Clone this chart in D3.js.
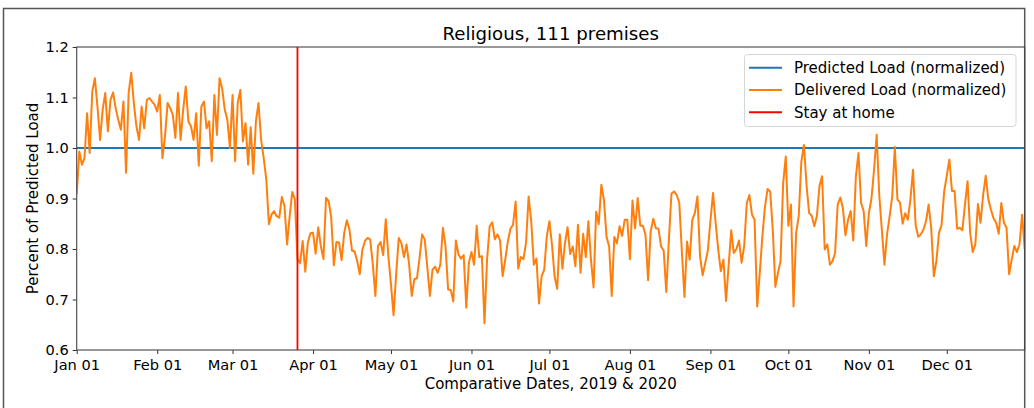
<!DOCTYPE html>
<html>
<head>
<meta charset="utf-8">
<script src="https://cdn.jsdelivr.net/npm/d3@7"></script>
<style>
  html, body { margin: 0; padding: 0; background: #fff; }
  svg { display: block; font-family: "DejaVu Sans", sans-serif; }
</style>
</head>
<body>
<svg id="chart" width="1034" height="408"></svg>
<script>
// Daily delivered load relative to predicted load, Jan 01 – Dec 31
const startDate = "2020-01-01";
const endDate = "2020-12-31";
const stayAtHomeDate = "2020-03-26";
const predictedLevel = 1.0;

const deliveredLoad = [
  // Jan 1 – Mar 4
  0.908, 0.993, 0.967, 0.980, 1.069, 0.990, 1.112, 1.138, 1.082, 1.016,
  1.076, 1.109, 1.033, 1.095, 1.110, 1.079, 1.056, 1.036, 1.092, 0.951,
  1.109, 1.149, 1.089, 1.043, 1.016, 1.082, 1.039, 1.095, 1.099, 1.092,
  1.086, 1.072, 1.105, 0.980, 1.023, 1.089, 1.079, 1.066, 1.020, 1.109,
  1.016, 1.076, 1.122, 1.053, 1.043, 1.016, 1.069, 0.965, 1.082, 1.092,
  1.039, 1.053, 0.974, 1.105, 1.026, 1.138, 1.118, 1.076, 1.056, 1.000,
  1.105, 0.974, 1.089, 1.115,
  // Mar 5 – May 3
  1.013, 1.049, 0.967, 1.041, 0.949, 1.053, 1.089, 1.016, 0.980, 0.938,
  0.849, 0.868, 0.875, 0.865, 0.862, 0.903, 0.885, 0.809, 0.865, 0.913,
  0.898, 0.780, 0.772, 0.816, 0.755, 0.813, 0.831, 0.832, 0.791, 0.843,
  0.806, 0.780, 0.901, 0.895, 0.862, 0.768, 0.814, 0.813, 0.778, 0.832,
  0.857, 0.839, 0.797, 0.795, 0.776, 0.750, 0.799, 0.816, 0.822, 0.819,
  0.770, 0.707, 0.806, 0.814, 0.788, 0.859, 0.786, 0.730, 0.669, 0.750,
  // May 4 – Jul 5
  0.822, 0.812, 0.784, 0.809, 0.769, 0.707, 0.740, 0.742, 0.782, 0.829,
  0.819, 0.763, 0.707, 0.759, 0.765, 0.753, 0.769, 0.842, 0.806, 0.720,
  0.719, 0.696, 0.817, 0.789, 0.781, 0.788, 0.684, 0.773, 0.794, 0.769,
  0.846, 0.784, 0.786, 0.653, 0.779, 0.845, 0.853, 0.819, 0.829, 0.817,
  0.746, 0.779, 0.815, 0.840, 0.848, 0.894, 0.761, 0.784, 0.780, 0.812,
  0.904, 0.855, 0.769, 0.781, 0.692, 0.746, 0.759, 0.825, 0.855, 0.808,
  0.746, 0.721, 0.829,
  // Jul 6 – Sep 1
  0.761, 0.812, 0.843, 0.790, 0.805, 0.766, 0.848, 0.753, 0.830, 0.784,
  0.855, 0.779, 0.724, 0.874, 0.849, 0.927, 0.897, 0.824, 0.805, 0.707,
  0.824, 0.811, 0.845, 0.826, 0.858, 0.858, 0.780, 0.896, 0.841, 0.901,
  0.846, 0.846, 0.828, 0.738, 0.835, 0.860, 0.841, 0.840, 0.805, 0.797,
  0.715, 0.818, 0.910, 0.914, 0.907, 0.892, 0.795, 0.705, 0.815, 0.779,
  0.857, 0.871, 0.904, 0.786, 0.748, 0.772, 0.797, 0.855,
  // Sep 2 – Oct 28
  0.911, 0.852, 0.799, 0.756, 0.779, 0.697, 0.766, 0.837, 0.792, 0.800,
  0.817, 0.773, 0.806, 0.891, 0.907, 0.868, 0.858, 0.686, 0.753, 0.825,
  0.884, 0.919, 0.914, 0.838, 0.725, 0.753, 0.776, 0.930, 0.983, 0.846,
  0.888, 0.686, 0.832, 0.865, 0.973, 1.006, 0.927, 0.871, 0.866, 0.845,
  0.866, 0.925, 0.944, 0.799, 0.809, 0.769, 0.776, 0.792, 0.888, 0.902,
  0.881, 0.827, 0.858, 0.875, 0.817, 0.944, 0.990,
  // Oct 29 – Dec 31
  0.891, 0.875, 0.806, 0.871, 0.900, 0.957, 1.026, 0.907, 0.838, 0.769,
  0.829, 0.865, 0.904, 1.002, 0.898, 0.892, 0.850, 0.871, 0.858, 0.898,
  0.957, 0.848, 0.824, 0.829, 0.838, 0.855, 0.888, 0.842, 0.746, 0.776,
  0.832, 0.848, 0.914, 0.945, 0.977, 0.915, 0.915, 0.840, 0.842, 0.837,
  0.888, 0.934, 0.832, 0.794, 0.809, 0.889, 0.852, 0.907, 0.945, 0.898,
  0.878, 0.861, 0.852, 0.830, 0.891, 0.852, 0.842, 0.750, 0.779, 0.806,
  0.794, 0.809, 0.868, 0.800
];

const yTicks = [0.6, 0.7, 0.8, 0.9, 1.0, 1.1, 1.2];
const monthTicks = ["2020-01-01", "2020-02-01", "2020-03-01", "2020-04-01", "2020-05-01", "2020-06-01",
                    "2020-07-01", "2020-08-01", "2020-09-01", "2020-10-01", "2020-11-01", "2020-12-01"];
const legendLabels = ["Predicted Load (normalized)", "Delivered Load (normalized)", "Stay at home"];
const titleText = "Religious, 111 premises";
const xLabel = "Comparative Dates, 2019 & 2020";
const yLabel = "Percent of Predicted Load";

const colors = { predicted: "#1f77b4", delivered: "#ff7f0e", stay: "#ff0000" };

const parse = d3.utcParse("%Y-%m-%d");
const t0 = parse(startDate);
const series = deliveredLoad.map((v, i) => ({ date: d3.utcDay.offset(t0, i), value: v }));

const svg = d3.select("#chart");
const W = 1034, H = 408;
const plot = { left: 76.7, right: 1024.7, top: 47, bottom: 350 };

svg.append("rect").attr("width", W).attr("height", H).attr("fill", "#fff");

// figure frame
svg.append("rect")
  .attr("x", 3.5).attr("y", 8.5)
  .attr("width", 1021.2).attr("height", 420)
  .attr("fill", "none").attr("stroke", "#555").attr("stroke-width", 1.5);

const x = d3.scaleUtc()
  .domain([t0, parse(endDate)])
  .range([plot.left, plot.right]);

const y = d3.scaleLinear()
  .domain([0.6, 1.2])
  .range([plot.bottom, plot.top]);

const clipId = "plot-clip";
svg.append("clipPath").attr("id", clipId)
  .append("rect")
  .attr("x", plot.left).attr("y", plot.top)
  .attr("width", plot.right - plot.left).attr("height", plot.bottom - plot.top);

const g = svg.append("g").attr("clip-path", `url(#${clipId})`);

// predicted level
g.append("line")
  .attr("x1", plot.left).attr("x2", plot.right)
  .attr("y1", y(predictedLevel)).attr("y2", y(predictedLevel))
  .attr("stroke", colors.predicted).attr("stroke-width", 2);

// delivered load
const line = d3.line().x(d => x(d.date)).y(d => y(d.value));
g.append("path")
  .datum(series)
  .attr("fill", "none")
  .attr("stroke", colors.delivered)
  .attr("stroke-width", 2)
  .attr("stroke-linejoin", "round")
  .attr("d", line);

// stay-at-home marker
const stayX = x(parse(stayAtHomeDate));
g.append("line")
  .attr("x1", stayX).attr("x2", stayX)
  .attr("y1", plot.top).attr("y2", plot.bottom)
  .attr("stroke", colors.stay).attr("stroke-width", 1.8);

// axes
const xAxis = d3.axisBottom(x)
  .tickValues(monthTicks.map(parse))
  .tickFormat(d3.utcFormat("%b %d"))
  .tickSize(4).tickPadding(6);
const yAxis = d3.axisLeft(y)
  .tickValues(yTicks)
  .tickFormat(d3.format(".1f"))
  .tickSize(4).tickPadding(4);

const gx = svg.append("g").attr("transform", `translate(0,${plot.bottom})`).call(xAxis);
const gy = svg.append("g").attr("transform", `translate(${plot.left},0)`).call(yAxis);
[gx, gy].forEach(a => {
  a.select(".domain").remove();
  a.selectAll(".tick line").attr("stroke", "#333").attr("stroke-width", 1);
  a.selectAll(".tick text")
    .attr("fill", "#000")
    .style("font-family", "'DejaVu Sans', sans-serif")
    .style("font-size", "14.6px");
});

// spines
svg.append("rect")
  .attr("x", plot.left).attr("y", plot.top)
  .attr("width", plot.right - plot.left).attr("height", plot.bottom - plot.top)
  .attr("fill", "none").attr("stroke", "#444").attr("stroke-width", 1.1);

// title and axis labels
svg.append("text")
  .attr("x", (plot.left + plot.right) / 2).attr("y", 39.5)
  .attr("text-anchor", "middle")
  .style("font-size", "18.2px").attr("fill", "#000")
  .text(titleText);

svg.append("text")
  .attr("x", (plot.left + plot.right) / 2).attr("y", 389)
  .attr("text-anchor", "middle")
  .style("font-size", "15px").attr("fill", "#000")
  .text(xLabel);

svg.append("text")
  .attr("transform", `translate(38,${(plot.top + plot.bottom) / 2}) rotate(-90)`)
  .attr("text-anchor", "middle")
  .style("font-size", "15px").attr("fill", "#000")
  .text(yLabel);

// legend
const legend = svg.append("g");
legend.append("rect")
  .attr("x", 744.5).attr("y", 54.5)
  .attr("width", 271.5).attr("height", 72)
  .attr("rx", 3)
  .attr("fill", "#fff").attr("fill-opacity", 0.8)
  .attr("stroke", "#d6d6d6").attr("stroke-width", 1);

const legendColors = [colors.predicted, colors.delivered, colors.stay];
legendLabels.forEach((label, i) => {
  const cy = 67.7 + i * 22.3;
  legend.append("line")
    .attr("x1", 749).attr("x2", 782)
    .attr("y1", cy).attr("y2", cy)
    .attr("stroke", legendColors[i]).attr("stroke-width", 2);
  legend.append("text")
    .attr("x", 794).attr("y", cy + 5.3)
    .style("font-size", "15px").attr("fill", "#000")
    .text(label);
});
</script>
</body>
</html>
